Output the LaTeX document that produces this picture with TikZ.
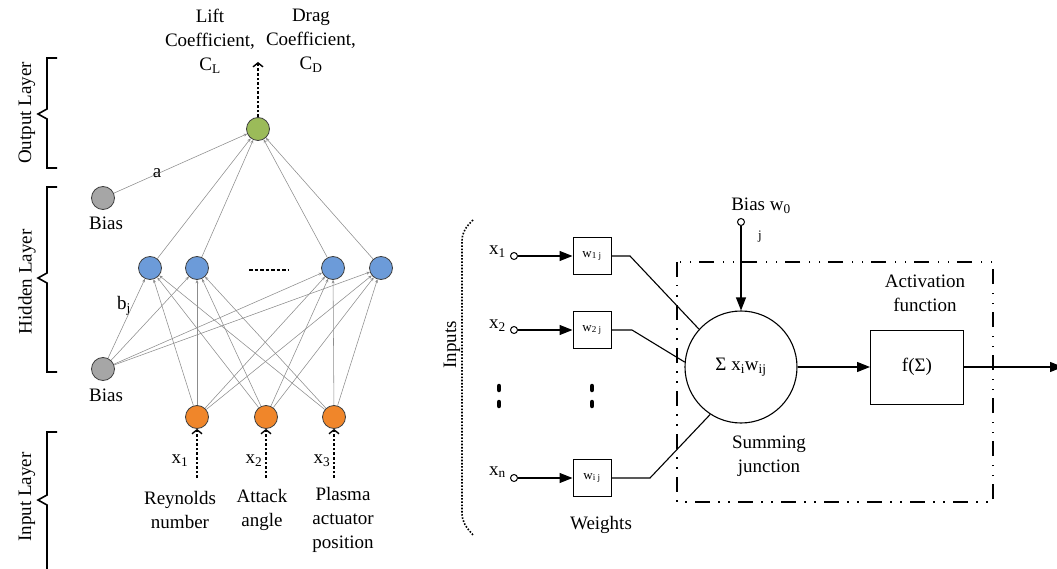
\documentclass[tikz,border=0pt]{standalone}
\usepackage{fontspec}
\setmainfont{Liberation Serif}
\usetikzlibrary{arrows.meta,calc}

\definecolor{outgreen}{HTML}{9BBB59}
\definecolor{hidblue}{HTML}{6C9BD9}
\definecolor{inorange}{HTML}{F0862A}
\definecolor{biasgray}{HTML}{A6A6A6}
\definecolor{rim}{HTML}{3F3F3F}

\begin{document}
\begin{tikzpicture}[x=1pt,y=-1pt,
  lbl/.style={font=\fontsize{19}{24}\selectfont, align=center, inner sep=0pt},
  small/.style={font=\fontsize{13}{15}\selectfont, inner sep=0pt},
  neuron/.style={circle, draw=rim, line width=0.8pt, minimum size=23pt, inner sep=0pt},
  link/.style={draw=black!45, line width=0.55pt, -{Stealth[length=3.5pt,width=3pt]}},
  feed/.style={line width=1.7pt, dash pattern=on 2.6pt off 2pt,
    -{Straight Barb[length=4pt,width=10pt,line width=1.4pt]}},
  layerbrace/.style={line width=1.6pt},
  wire/.style={line width=1.1pt},
  flow/.style={line width=1.1pt, -{Triangle[length=13pt,width=10pt]}},
  port/.style={circle, draw, line width=1pt, fill=white, minimum size=7pt, inner sep=0pt},
  wbox/.style={draw, line width=1pt, minimum width=38pt, minimum height=37pt, inner sep=0pt,
    font=\fontsize{13}{15}\selectfont}
]
\useasboundingbox (0,0) rectangle (1057,569);

% ---------------- feed-forward network ----------------
% layer brackets
\draw[layerbrace] (57,58) -- (47,58) -- (47,109) -- (38,114) -- (47,119) -- (47,168) -- (57,168);
\draw[layerbrace] (57,187) -- (47,187) -- (47,273) -- (38,278) -- (47,283) -- (47,372) -- (57,372);
\draw[layerbrace] (57,432) -- (47,432) -- (47,495) -- (38,500) -- (47,505) -- (47,572);
\node[lbl, rotate=90] (lout) at (27,113) {Output Layer};
\node[lbl, rotate=90] (lhid) at (27,282) {Hidden Layer};
\node[lbl, rotate=90] (linp) at (27,497) {Input Layer};

% neurons
\node[neuron, fill=outgreen] (o)  at (258,129) {};
\node[neuron, fill=biasgray] (b1) at (103,198) {};
\node[neuron, fill=biasgray] (b2) at (103,369) {};
\node[neuron, fill=hidblue]  (h1) at (150,268) {};
\node[neuron, fill=hidblue]  (h2) at (197,268) {};
\node[neuron, fill=hidblue]  (h3) at (333,268) {};
\node[neuron, fill=hidblue]  (h4) at (381,268) {};
\node[neuron, fill=inorange] (i1) at (197,417) {};
\node[neuron, fill=inorange] (i2) at (266,417) {};
\node[neuron, fill=inorange] (i3) at (334,417) {};

\node[lbl] (tb1) at (106,223) {Bias};
\node[lbl] (tb2) at (106,395) {Bias};
\node[lbl] (ta)  at (157,173) {a};
\node[lbl] (tbj) at (124,306) {b\textsubscript{j}};
\draw[line width=1.7pt, dash pattern=on 3.5pt off 2pt] (249,270) -- (288,270);

% weighted links
\foreach \h in {h1,h2,h3,h4} {
  \foreach \s in {b2,i1,i2,i3} {
    \draw[link] (\s) -- (\h);
  }
  \draw[link] (\h) -- (o);
}
\draw[link] (b1) -- (o);

% outputs
\coordinate (otip) at (258,62);
\draw[feed] (o.north) -- (otip);
\node[lbl] (cl) at (210,41) {Lift\\Coefficient,\\C\textsubscript{L}};
\node[lbl] (cd) at (311,41) {Drag\\Coefficient,\\C\textsubscript{D}};

% inputs
\coordinate (s1) at (197,478);
\coordinate (s2) at (266,478);
\coordinate (s3) at (334,478);
\draw[feed] (s1) -- (i1.south);
\draw[feed] (s2) -- (i2.south);
\draw[feed] (s3) -- (i3.south);
\node[lbl] (x1) at (180,461) {x\textsubscript{1}};
\node[lbl] (x2) at (254,461) {x\textsubscript{2}};
\node[lbl] (x3) at (322,461) {x\textsubscript{3}};
\node[lbl] (re) at (180,510) {Reynolds\\number};
\node[lbl] (at) at (262,510) {Attack\\angle};
\node[lbl] (pl) at (343,520) {Plasma\\actuator\\position};

% ---------------- single neuron model ----------------
\draw[line width=1.6pt, dash pattern=on 1.6pt off 1.6pt]
  (473,220) .. controls (466,227) and (462,232) .. (462,241) -- (462,513)
  .. controls (462,522) and (466,527) .. (473,535);
\node[lbl, rotate=90] (tin) at (452,345) {Inputs};

\node[port] (p1) at (514,256) {};
\node[port] (p2) at (514,330) {};
\node[port] (pn) at (514,478) {};
\node[lbl, anchor=east] (tx1) at (506,252) {x\textsubscript{1}};
\node[lbl, anchor=east] (tx2) at (506,326) {x\textsubscript{2}};
\node[lbl, anchor=east] (txn) at (506,472) {x\textsubscript{n}};

\node[wbox] (w1) at (592,256) {w\textsubscript{1 j}};
\node[wbox] (w2) at (592,330) {w\textsubscript{2 j}};
\node[wbox] (wn) at (592,478) {w\textsubscript{i j}};
\draw[flow] (p1) -- (w1);
\draw[flow] (p2) -- (w2);
\draw[flow] (pn) -- (wn);

% elision marks
\foreach \x in {499,592} {
  \draw[line width=4.5pt, line cap=round] (\x,386) -- (\x,390);
  \draw[line width=4.5pt, line cap=round] (\x,402) -- (\x,406);
}

\node[circle, draw, line width=1.1pt, minimum size=112pt, inner sep=0pt,
  font=\fontsize{19}{24}\selectfont] (sum) at (741,367) {Σ x\textsubscript{i}w\textsubscript{ij}};
\draw[wire] (w1.east) -- (630,256) -- (sum.138);
\draw[wire] (w2.east) -- (632,330) -- (sum.175);
\draw[wire] (wn.east) -- (650,478) -- (sum.237);

\node[port] (pb) at (741,222) {};
\draw[flow] (pb) -- (sum.north);
\node[lbl] (tbias) at (761,206) {Bias w\textsubscript{0}};
\node[small] (tj) at (760,237) {j};

% activation block frame (dash-dot-dot)
\draw[line width=1.6pt, dash pattern=on 15pt off 8pt on 1.5pt off 8.5pt on 1.5pt off 8.5pt]
  (677,262) rectangle (993,502);

\node[draw, line width=1pt, minimum width=93pt, minimum height=74pt, inner sep=0pt,
  font=\fontsize{19}{24}\selectfont] (f) at (917,367) {f(Σ)};
\draw[flow] (sum.east) -- (f.west);
\coordinate (yout) at (1063,367);
\draw[flow] (f.east) -- (yout);

\node[lbl] (tact) at (925,293) {Activation\\function};
\node[lbl] (tsum) at (769,456) {Summing\\junction};
\node[lbl] (tw) at (601,525) {Weights};
\end{tikzpicture}
\end{document}
